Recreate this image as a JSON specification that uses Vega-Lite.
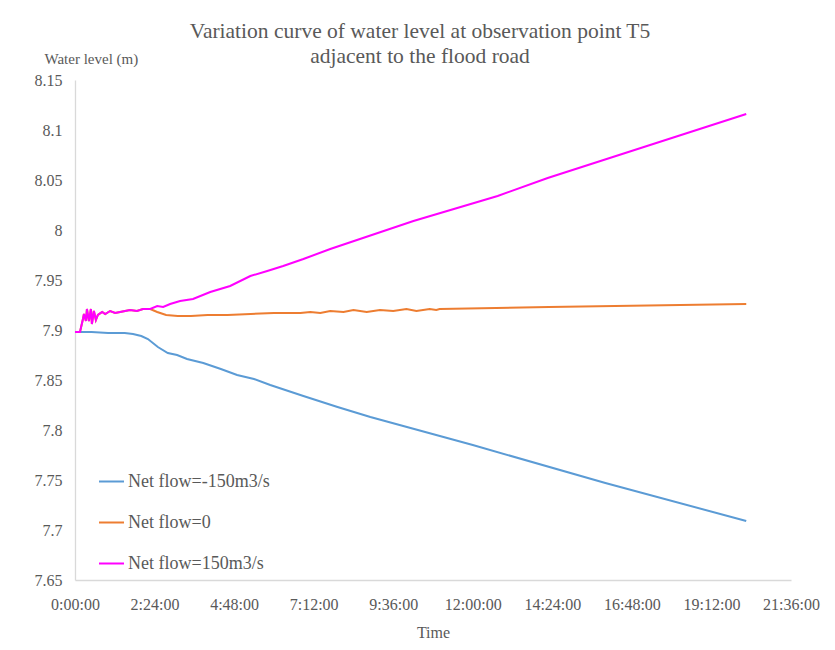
{
  "$schema": "https://vega.github.io/schema/vega-lite/v6.json",
  "width": 716,
  "height": 500,
  "autosize": {"type": "none"},
  "padding": {"left": 75, "top": 80, "right": 44, "bottom": 70},
  "background": "white",
  "title": {
    "text": ["Variation curve of water level at observation point T5", "adjacent to the flood road"],
    "font": "Liberation Serif",
    "fontSize": 21.5,
    "fontWeight": "normal",
    "color": "#595959",
    "lineHeight": 25,
    "offset": 17,
    "dx": -13,
    "dy": 33
  },
  "config": {
    "view": {"stroke": null},
    "font": "Liberation Serif"
  },
  "data": {
    "values": [
      {"t": 0, "level": 7.898, "series": "Net flow=-150m3/s"},
      {"t": 0.5, "level": 7.898, "series": "Net flow=-150m3/s"},
      {"t": 1.0, "level": 7.897, "series": "Net flow=-150m3/s"},
      {"t": 1.5, "level": 7.897, "series": "Net flow=-150m3/s"},
      {"t": 1.75, "level": 7.896, "series": "Net flow=-150m3/s"},
      {"t": 2.0, "level": 7.894, "series": "Net flow=-150m3/s"},
      {"t": 2.2, "level": 7.891, "series": "Net flow=-150m3/s"},
      {"t": 2.5, "level": 7.883, "series": "Net flow=-150m3/s"},
      {"t": 2.8, "level": 7.877, "series": "Net flow=-150m3/s"},
      {"t": 3.08, "level": 7.875, "series": "Net flow=-150m3/s"},
      {"t": 3.38, "level": 7.871, "series": "Net flow=-150m3/s"},
      {"t": 3.87, "level": 7.867, "series": "Net flow=-150m3/s"},
      {"t": 4.4, "level": 7.861, "series": "Net flow=-150m3/s"},
      {"t": 4.89, "level": 7.855, "series": "Net flow=-150m3/s"},
      {"t": 5.4, "level": 7.851, "series": "Net flow=-150m3/s"},
      {"t": 5.89, "level": 7.845, "series": "Net flow=-150m3/s"},
      {"t": 6.89, "level": 7.834, "series": "Net flow=-150m3/s"},
      {"t": 7.92, "level": 7.823, "series": "Net flow=-150m3/s"},
      {"t": 8.91, "level": 7.813, "series": "Net flow=-150m3/s"},
      {"t": 12.0, "level": 7.785, "series": "Net flow=-150m3/s"},
      {"t": 16.0, "level": 7.747, "series": "Net flow=-150m3/s"},
      {"t": 20.25, "level": 7.709, "series": "Net flow=-150m3/s"},

      {"t": 0, "level": 7.898, "series": "Net flow=0"},
      {"t": 0.15, "level": 7.898, "series": "Net flow=0"},
      {"t": 0.24, "level": 7.911, "series": "Net flow=0"},
      {"t": 0.27, "level": 7.916, "series": "Net flow=0"},
      {"t": 0.33, "level": 7.909, "series": "Net flow=0"},
      {"t": 0.36, "level": 7.921, "series": "Net flow=0"},
      {"t": 0.42, "level": 7.909, "series": "Net flow=0"},
      {"t": 0.48, "level": 7.921, "series": "Net flow=0"},
      {"t": 0.51, "level": 7.906, "series": "Net flow=0"},
      {"t": 0.57, "level": 7.919, "series": "Net flow=0"},
      {"t": 0.63, "level": 7.91, "series": "Net flow=0"},
      {"t": 0.69, "level": 7.915, "series": "Net flow=0"},
      {"t": 0.82, "level": 7.918, "series": "Net flow=0"},
      {"t": 0.91, "level": 7.916, "series": "Net flow=0"},
      {"t": 1.06, "level": 7.919, "series": "Net flow=0"},
      {"t": 1.21, "level": 7.917, "series": "Net flow=0"},
      {"t": 1.36, "level": 7.918, "series": "Net flow=0"},
      {"t": 1.51, "level": 7.919, "series": "Net flow=0"},
      {"t": 1.66, "level": 7.92, "series": "Net flow=0"},
      {"t": 1.87, "level": 7.919, "series": "Net flow=0"},
      {"t": 2.05, "level": 7.921, "series": "Net flow=0"},
      {"t": 2.27, "level": 7.921, "series": "Net flow=0"},
      {"t": 2.48, "level": 7.918, "series": "Net flow=0"},
      {"t": 2.75, "level": 7.915, "series": "Net flow=0"},
      {"t": 3.1, "level": 7.914, "series": "Net flow=0"},
      {"t": 3.5, "level": 7.914, "series": "Net flow=0"},
      {"t": 4.0, "level": 7.915, "series": "Net flow=0"},
      {"t": 4.6, "level": 7.915, "series": "Net flow=0"},
      {"t": 5.3, "level": 7.916, "series": "Net flow=0"},
      {"t": 6.0, "level": 7.917, "series": "Net flow=0"},
      {"t": 6.8, "level": 7.917, "series": "Net flow=0"},
      {"t": 7.1, "level": 7.918, "series": "Net flow=0"},
      {"t": 7.4, "level": 7.917, "series": "Net flow=0"},
      {"t": 7.7, "level": 7.919, "series": "Net flow=0"},
      {"t": 8.1, "level": 7.918, "series": "Net flow=0"},
      {"t": 8.4, "level": 7.92, "series": "Net flow=0"},
      {"t": 8.8, "level": 7.918, "series": "Net flow=0"},
      {"t": 9.2, "level": 7.92, "series": "Net flow=0"},
      {"t": 9.6, "level": 7.919, "series": "Net flow=0"},
      {"t": 10.0, "level": 7.921, "series": "Net flow=0"},
      {"t": 10.3, "level": 7.919, "series": "Net flow=0"},
      {"t": 10.7, "level": 7.921, "series": "Net flow=0"},
      {"t": 10.9, "level": 7.92, "series": "Net flow=0"},
      {"t": 11.0, "level": 7.921, "series": "Net flow=0"},
      {"t": 14.3, "level": 7.923, "series": "Net flow=0"},
      {"t": 20.25, "level": 7.926, "series": "Net flow=0"},

      {"t": 0, "level": 7.898, "series": "Net flow=150m3/s"},
      {"t": 0.15, "level": 7.898, "series": "Net flow=150m3/s"},
      {"t": 0.24, "level": 7.911, "series": "Net flow=150m3/s"},
      {"t": 0.27, "level": 7.916, "series": "Net flow=150m3/s"},
      {"t": 0.33, "level": 7.909, "series": "Net flow=150m3/s"},
      {"t": 0.36, "level": 7.921, "series": "Net flow=150m3/s"},
      {"t": 0.42, "level": 7.909, "series": "Net flow=150m3/s"},
      {"t": 0.48, "level": 7.921, "series": "Net flow=150m3/s"},
      {"t": 0.51, "level": 7.906, "series": "Net flow=150m3/s"},
      {"t": 0.57, "level": 7.919, "series": "Net flow=150m3/s"},
      {"t": 0.63, "level": 7.91, "series": "Net flow=150m3/s"},
      {"t": 0.69, "level": 7.915, "series": "Net flow=150m3/s"},
      {"t": 0.82, "level": 7.918, "series": "Net flow=150m3/s"},
      {"t": 0.91, "level": 7.916, "series": "Net flow=150m3/s"},
      {"t": 1.06, "level": 7.919, "series": "Net flow=150m3/s"},
      {"t": 1.21, "level": 7.917, "series": "Net flow=150m3/s"},
      {"t": 1.36, "level": 7.918, "series": "Net flow=150m3/s"},
      {"t": 1.51, "level": 7.919, "series": "Net flow=150m3/s"},
      {"t": 1.66, "level": 7.92, "series": "Net flow=150m3/s"},
      {"t": 1.87, "level": 7.919, "series": "Net flow=150m3/s"},
      {"t": 2.05, "level": 7.921, "series": "Net flow=150m3/s"},
      {"t": 2.27, "level": 7.921, "series": "Net flow=150m3/s"},
      {"t": 2.48, "level": 7.924, "series": "Net flow=150m3/s"},
      {"t": 2.66, "level": 7.923, "series": "Net flow=150m3/s"},
      {"t": 2.87, "level": 7.926, "series": "Net flow=150m3/s"},
      {"t": 3.17, "level": 7.929, "series": "Net flow=150m3/s"},
      {"t": 3.56, "level": 7.931, "series": "Net flow=150m3/s"},
      {"t": 4.08, "level": 7.938, "series": "Net flow=150m3/s"},
      {"t": 4.68, "level": 7.944, "series": "Net flow=150m3/s"},
      {"t": 5.29, "level": 7.954, "series": "Net flow=150m3/s"},
      {"t": 5.8, "level": 7.959, "series": "Net flow=150m3/s"},
      {"t": 6.28, "level": 7.964, "series": "Net flow=150m3/s"},
      {"t": 6.89, "level": 7.971, "series": "Net flow=150m3/s"},
      {"t": 7.7, "level": 7.981, "series": "Net flow=150m3/s"},
      {"t": 10.21, "level": 8.009, "series": "Net flow=150m3/s"},
      {"t": 12.75, "level": 8.034, "series": "Net flow=150m3/s"},
      {"t": 14.26, "level": 8.052, "series": "Net flow=150m3/s"},
      {"t": 20.25, "level": 8.116, "series": "Net flow=150m3/s"}
    ]
  },
  "mark": {"type": "line", "strokeWidth": 2, "interpolate": "linear"},
  "encoding": {
    "x": {
      "field": "t",
      "type": "quantitative",
      "scale": {"domain": [0, 21.6], "nice": false, "zero": false},
      "axis": {
        "title": "Time",
        "values": [0, 2.4, 4.8, 7.2, 9.6, 12, 14.4, 16.8, 19.2, 21.6],
        "labelExpr": "floor(round(datum.value*60)/60) + ':' + (round(datum.value*60)%60 < 10 ? '0' : '') + (round(datum.value*60)%60) + ':00'",
        "grid": false,
        "ticks": false,
        "domainColor": "#D9D9D9",
        "domainWidth": 1.3,
        "labelFont": "Liberation Serif",
        "labelFontSize": 16,
        "labelColor": "#595959",
        "labelPadding": 16,
        "labelFlush": false,
        "labelOverlap": false,
        "titleFont": "Liberation Serif",
        "titleFontSize": 16,
        "titleFontWeight": "normal",
        "titleColor": "#595959",
        "titlePadding": 12
      }
    },
    "y": {
      "field": "level",
      "type": "quantitative",
      "scale": {"domain": [7.65, 8.15], "nice": false, "zero": false},
      "axis": {
        "title": "Water level (m)",
        "values": [7.65, 7.7, 7.75, 7.8, 7.85, 7.9, 7.95, 8, 8.05, 8.1, 8.15],
        "format": "~g",
        "grid": false,
        "ticks": false,
        "domainColor": "#D9D9D9",
        "domainWidth": 1.3,
        "labelFont": "Liberation Serif",
        "labelFontSize": 16,
        "labelColor": "#595959",
        "labelPadding": 13,
        "labelFlush": false,
        "labelOverlap": false,
        "titleFont": "Liberation Serif",
        "titleFontSize": 15,
        "titleFontWeight": "normal",
        "titleColor": "#595959",
        "titleAngle": 0,
        "titleAlign": "left",
        "titleBaseline": "middle",
        "titleX": -31,
        "titleY": -22
      }
    },
    "color": {
      "field": "series",
      "type": "nominal",
      "sort": ["Net flow=-150m3/s", "Net flow=0", "Net flow=150m3/s"],
      "scale": {
        "domain": ["Net flow=-150m3/s", "Net flow=0", "Net flow=150m3/s"],
        "range": ["#5B9BD5", "#ED7D31", "#FF00FF"]
      },
      "legend": {
        "title": null,
        "orient": "none",
        "legendX": 23,
        "legendY": 388,
        "symbolType": "stroke",
        "symbolSize": 625,
        "symbolStrokeWidth": 2,
        "labelFont": "Liberation Serif",
        "labelFontSize": 18,
        "labelColor": "#595959",
        "labelOffset": 3,
        "rowPadding": 18
      }
    }
  }
}
